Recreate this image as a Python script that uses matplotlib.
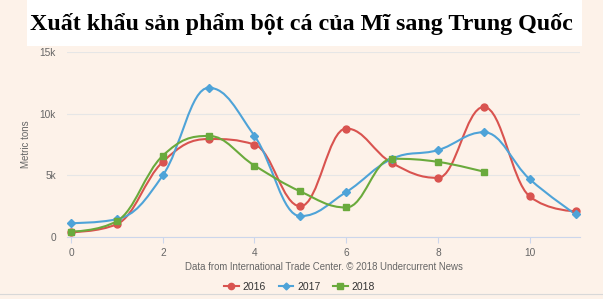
import matplotlib.pyplot as plt
import numpy as np
from matplotlib.path import Path
from matplotlib.patches import PathPatch, Rectangle
from matplotlib.lines import Line2D

# donnees (tonnes)
months = [0, 1, 2, 3, 4, 5, 6, 7, 8, 9, 10, 11]
y2016 = [400, 1050, 6100, 7950, 7500, 2500, 8800, 6000, 4800, 10550, 3300, 2100]
y2017 = [1130, 1450, 5000, 12100, 8200, 1700, 3650, 6350, 7050, 8500, 4700, 1850]
y2018 = [450, 1300, 6600, 8200, 5800, 3700, 2400, 6350, 6100, 5300]
labels = ["2016", "2017", "2018"]
colors = ["#d9534f", "#4ea3d8", "#6aaa3c"]
markers = ["o", "D", "s"]
title = "Xuất khẩu sản phẩm bột cá của Mĩ sang Trung Quốc"
bg = "#fdf2e9"


# courbe lissee facon highcharts (bezier cubique)
def spline_path(x, y):
    n = len(x)
    verts = [(x[0], y[0])]
    codes = [Path.MOVETO]
    lc, rc = [None] * n, [None] * n
    for i in range(n):
        if i == 0 or i == n - 1:
            lc[i] = rc[i] = (x[i], y[i])
            continue
        px, py, nx, ny = x[i - 1], y[i - 1], x[i + 1], y[i + 1]
        lcx, lcy = (1.5 * x[i] + px) / 2.5, (1.5 * y[i] + py) / 2.5
        rcx, rcy = (1.5 * x[i] + nx) / 2.5, (1.5 * y[i] + ny) / 2.5
        corr = (rcy - lcy) * (rcx - x[i]) / (rcx - lcx) + y[i] - rcy
        lcy += corr
        rcy += corr
        if lcy > py and lcy > y[i]:
            lcy = max(py, y[i]); rcy = 2 * y[i] - lcy
        elif lcy < py and lcy < y[i]:
            lcy = min(py, y[i]); rcy = 2 * y[i] - lcy
        if rcy > ny and rcy > y[i]:
            rcy = max(ny, y[i]); lcy = 2 * y[i] - rcy
        elif rcy < ny and rcy < y[i]:
            rcy = min(ny, y[i]); lcy = 2 * y[i] - rcy
        lc[i], rc[i] = (lcx, lcy), (rcx, rcy)
    for i in range(1, n):
        verts += [rc[i - 1], lc[i], (x[i], y[i])]
        codes += [Path.CURVE4] * 3
    return Path(verts, codes)


fig = plt.figure(figsize=(6.03, 2.99), dpi=100, facecolor=bg)
ax = fig.add_axes([0.111, 0.207, 0.851, 0.619])
ax.set_facecolor(bg)

series = [y2016, y2017, y2018]
for vals, lab, c, m in zip(series, labels, colors, markers):
    xs = months[:len(vals)]
    ax.add_patch(PathPatch(spline_path(xs, vals), fill=False, edgecolor=c, lw=1.5, zorder=3))
    ms = 4 if m == "D" else 5
    ax.plot(xs, vals, ls="none", marker=m, color=c, markersize=ms, zorder=4)

ax.set_xlim(-0.09, 11.1)
ax.set_ylim(0, 15000)
ax.set_xticks([0, 2, 4, 6, 8, 10])
ax.set_yticks([0, 5000, 10000, 15000])
ax.set_yticklabels(["0", "5k", "10k", "15k"])
ax.grid(axis="y", color="#e6e6e6", lw=0.8)
ax.set_axisbelow(True)
for s in ["top", "right", "left"]:
    ax.spines[s].set_visible(False)
ax.spines["bottom"].set_color("#ccd6eb")
ax.tick_params(axis="y", length=0, labelsize=7.3, labelcolor="#666666", pad=8)
ax.tick_params(axis="x", length=4, color="#ccd6eb", labelsize=7.3, labelcolor="#666666")
for t in ax.get_xticklabels() + ax.get_yticklabels():
    t.set_family("Liberation Sans")

ax.set_ylabel("Metric tons", fontsize=7, color="#666666", family="Liberation Sans", labelpad=6)
ax.set_xlabel("Data from International Trade Center. © 2018 Undercurrent News",
              fontsize=6.9, color="#666666", family="Liberation Sans", labelpad=3)

# legende
handles = [Line2D([], [], color=c, marker=m, lw=1.5, markersize=3.5 if m == "D" else 4.5)
           for c, m in zip(colors, markers)]
fig.legend(handles, labels, loc="center", bbox_to_anchor=(0.497, 0.04), ncol=3,
           frameon=False, handlelength=1.4, columnspacing=1.2,
           handletextpad=0.4, labelcolor="#333333",
           prop={"family": "Liberation Sans", "size": 7.5})
fig.add_artist(Line2D([0, 1], [0.017, 0.017], color="#d8d8d8", lw=0.8))

# titre en encadre blanc
fig.add_artist(Rectangle((0.045, 0.846), 0.92, 0.16, transform=fig.transFigure,
                         facecolor="white", edgecolor="none"))
fig.text(0.5, 0.92, title, ha="center", va="center", fontsize=17.3,
         fontweight="bold", family="Liberation Serif", color="black")

plt.savefig("out.png", facecolor=bg)
plt.close()
